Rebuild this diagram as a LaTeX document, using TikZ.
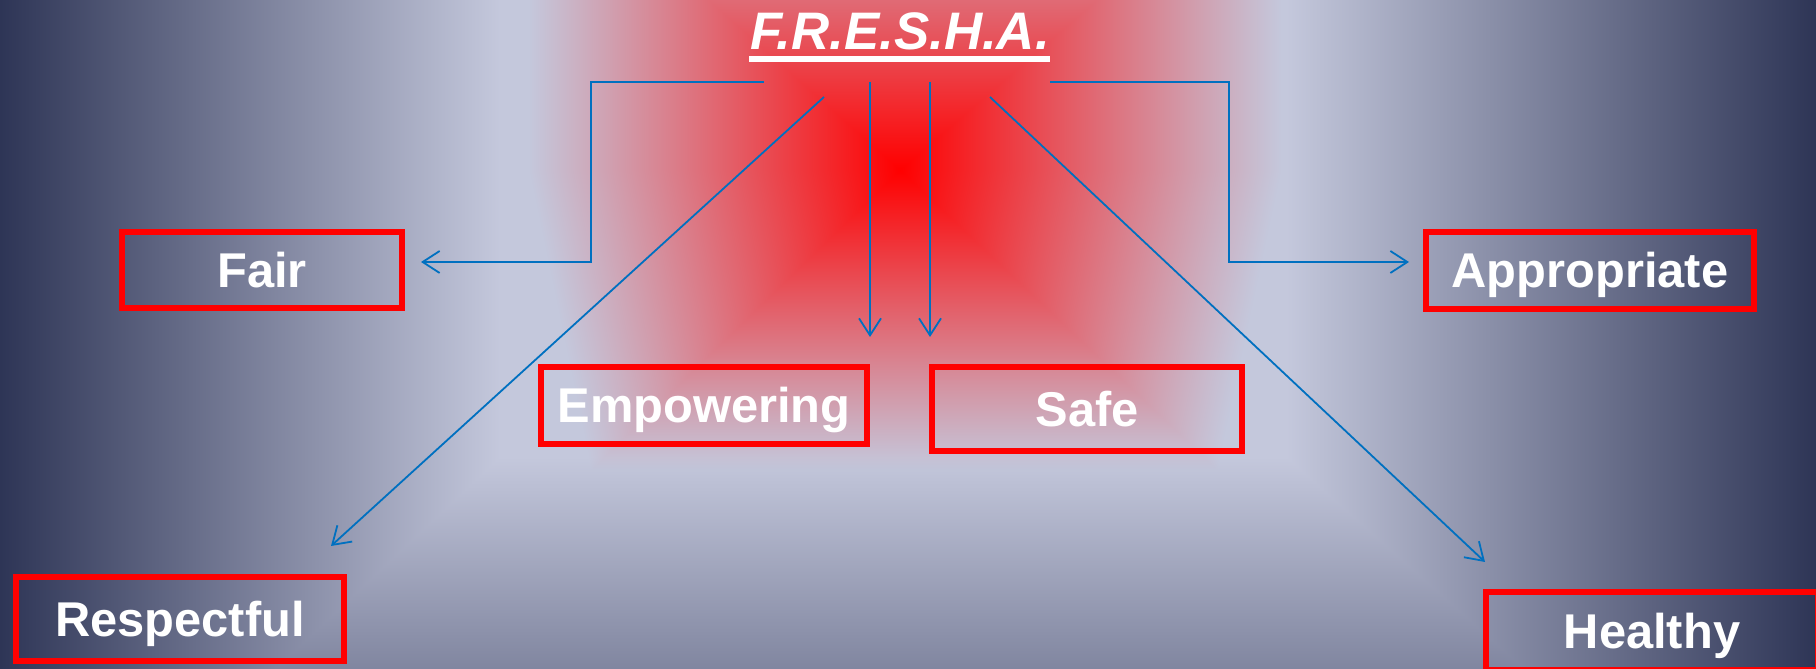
\documentclass[tikz,border=0pt]{standalone}
\usepackage{fontspec}
\setmainfont{Liberation Sans}
\usetikzlibrary{arrows.meta,calc}
\definecolor{arrowblue}{HTML}{0070C0}
\definecolor{boxred}{HTML}{FF0000}
\pgfdeclarefunctionalshading{freshabg}{\pgfpoint{0bp}{0bp}}{\pgfpoint{1816bp}{669bp}}{}{
1 index 1 index
499 exch sub
exch 900 sub dup 0 lt {neg 372 div} {382 div} ifelse
1 index dup 0 lt {pop 0} if 0.00056 mul add
exch
dup 0 gt {300 div} {neg 330 div} ifelse
2 copy lt {exch} if pop
1 exch sub dup 0 lt {pop 0} if 1.05 exp
3 1 roll
212 exch sub 212 div
dup 0 lt {pop 0} if dup 1 gt {pop 1} if 0.45 mul
exch
dup 500 div exch 1816 exch sub 530 div
2 copy gt {exch} if pop
dup 1 gt {pop 1} if 1 exch sub
2 copy lt {exch} if pop
exch 1 exch sub exch
dup -0.589 mul 0.769 add 2 index mul 1 add 2 index sub
1 index -0.576 mul 0.784 add 3 index mul
2 index -0.526 mul 0.863 add 4 index mul
5 -2 roll pop pop
}
\tikzset{
  valuebox/.style={draw=boxred, line width=6bp, text=white, inner sep=0pt,
    font=\fontsize{49}{49}\selectfont\bfseries, text height=35bp, text depth=0bp},
  conn/.style={draw=arrowblue, line width=1.8bp, -{Straight Barb[length=17bp,width=22bp]}}
}
\begin{document}
\begin{tikzpicture}[x=1bp,y=1bp]
\useasboundingbox (0,0) rectangle (1816,669);
\node[inner sep=0pt, outer sep=0pt, anchor=south west] (bg) at (0,0) {\pgfuseshading{freshabg}};
% title
\node[anchor=base, inner sep=0pt, text=white, font=\fontsize{53}{53}\selectfont\bfseries\itshape] (title) at (900,619) {F.R.E.S.H.A.};
\draw[white, line width=6bp] ($(title.base west)+(-1,-9)$) -- ($(title.base east)+(0,-9)$);
% boxes
\node[valuebox, minimum width=282, minimum height=76] (fair) at (262,399) {Fair};
\node[valuebox, minimum width=330, minimum height=77] (appropriate) at (1590,398.5) {Appropriate};
\node[valuebox, minimum width=328, minimum height=77] (empowering) at (704,263.5) {Empowering};
\node[valuebox, minimum width=312, minimum height=84] (safe) at (1087,260) {Safe};
\node[valuebox, minimum width=330, minimum height=84] (respectful) at (180,50) {Respectful};
\node[valuebox, minimum width=334, minimum height=78] (healthy) at (1652,38) {Healthy};
% connector points
\coordinate (fS) at (764,587);
\coordinate (fA) at (591,587);
\coordinate (fB) at (591,407);
\coordinate (fE) at (421,407);
\coordinate (aS) at (1050,587);
\coordinate (aA) at (1229,587);
\coordinate (aB) at (1229,407);
\coordinate (aE) at (1409,407);
\coordinate (eS) at (870,587);
\coordinate (eE) at (870,332);
\coordinate (sS) at (930,587);
\coordinate (sE) at (930,332);
\coordinate (rS) at (824,572);
\coordinate (rE) at (331,123);
\coordinate (hS) at (990,572);
\coordinate (hE) at (1485,107);
\draw[conn] (fS) -- (fA) -- (fB) -- (fE);
\draw[conn] (aS) -- (aA) -- (aB) -- (aE);
\draw[conn] (eS) -- (eE);
\draw[conn] (sS) -- (sE);
\draw[conn] (rS) -- (rE);
\draw[conn] (hS) -- (hE);
\end{tikzpicture}
\end{document}
